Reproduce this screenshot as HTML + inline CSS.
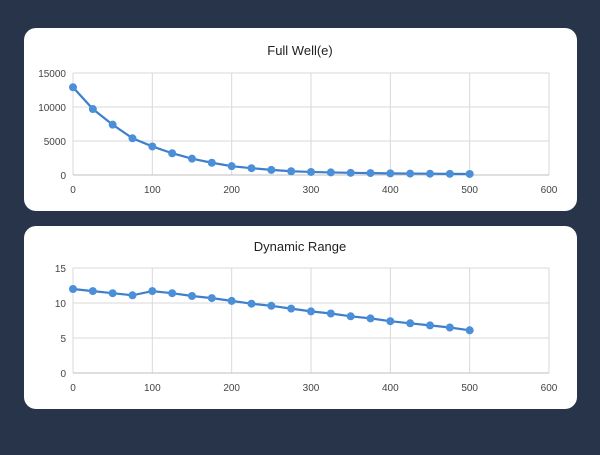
<!DOCTYPE html>
<html><head><style>
body{margin:0;width:600px;height:450px;background:#283449;overflow:hidden;font-family:"Liberation Sans",sans-serif}
</style></head><body>
<svg width="600" height="450" xmlns="http://www.w3.org/2000/svg" font-family="Liberation Sans, sans-serif">
<rect x="24" y="28" width="553" height="183" rx="12" fill="#fff"/>
<rect x="24" y="226" width="553" height="183" rx="12" fill="#fff"/>
<g id="c1"></g>
<g id="c2"></g>
<script><![CDATA[
function chart(id,y0,y1,max,step,data,title,ty){
 const g=document.getElementById(id);let s='';
 const X=v=>73+v*476/600, Y=v=>y0-(v/max)*(y0-y1);
 for(let i=0;i<=6;i++){const x=X(i*100);s+=`<line x1="${x}" y1="${y1}" x2="${x}" y2="${y0}" stroke="#d9d9d9"/>`;
  s+=`<text x="${x}" y="${y0+18}" font-size="10" text-anchor="middle" fill="#444">${i*100}</text>`;}
 for(let v=0;v<=max;v+=step){const y=Y(v);s+=`<line x1="73" y1="${y}" x2="549" y2="${y}" stroke="${v==0?'#bfbfbf':'#d9d9d9'}"/>`;
  s+=`<text x="66" y="${y+4}" font-size="10" text-anchor="end" fill="#444">${v}</text>`;}
 const pts=data.map((d,i)=>[X(i*25),Y(d)]);
 s+=`<polyline points="${pts.map(p=>p.join(',')).join(' ')}" fill="none" stroke="#3d7fcc" stroke-width="2.2"/>`;
 pts.forEach(p=>s+=`<circle cx="${p[0]}" cy="${p[1]}" r="4" fill="#4a8fd8"/>`);
 s+=`<text x="300" y="${ty}" font-size="13" text-anchor="middle" fill="#222">${title}</text>`;
 g.innerHTML=s;
}
chart('c1',175,73,15000,5000,[12900,9700,7400,5400,4200,3200,2400,1800,1300,1000,750,550,450,380,320,280,240,210,190,170,150],'Full Well(e)',55);
chart('c2',373,268,15,5,[12,11.7,11.4,11.1,11.7,11.4,11.0,10.7,10.3,9.9,9.6,9.2,8.8,8.5,8.1,7.8,7.4,7.1,6.8,6.5,6.1],'Dynamic Range',251);
]]></script>
</svg>
</body></html>
